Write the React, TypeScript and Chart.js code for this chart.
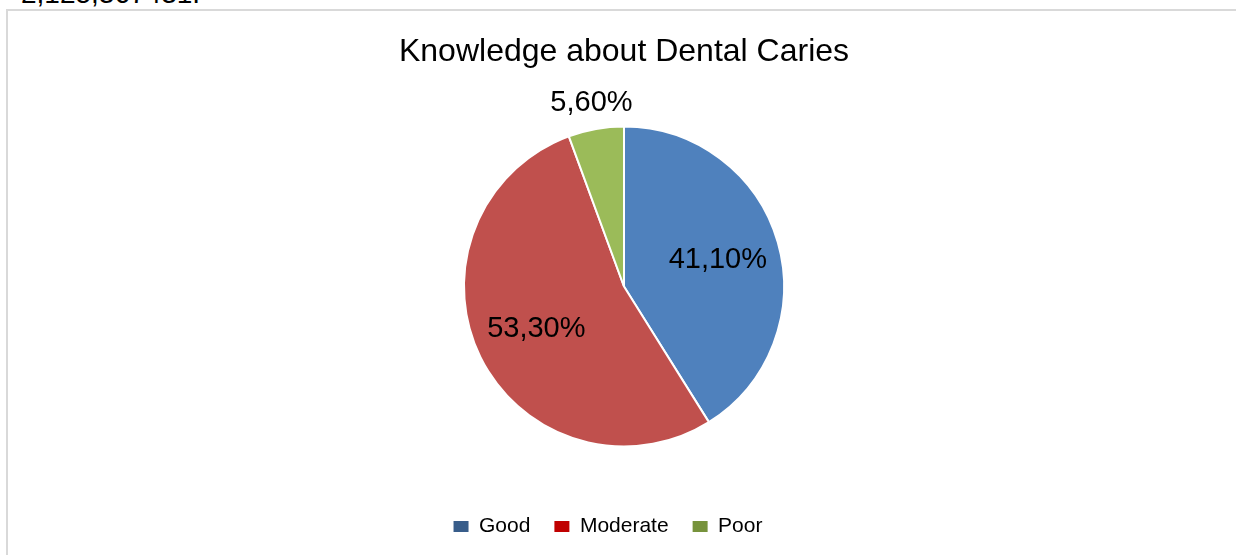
import React, { useEffect, useRef } from "react";
import { Chart, registerables } from "chart.js";

Chart.register(...registerables);

const TITLE = "Knowledge about Dental Caries";
const CATEGORIES = ["Good", "Moderate", "Poor"];
const VALUES = [41.1, 53.3, 5.6];
const VALUE_LABELS = ["41,10%", "53,30%", "5,60%"];
const SLICE_COLORS = ["#4F81BD", "#C0504D", "#9BBB59"];
const LEGEND_COLORS = ["#385D8A", "#C00000", "#77933C"];
const CUT_TEXT = "2,125,367431.";

const FONT = "'Liberation Sans', Arial, sans-serif";

const titlePlugin = {
  id: "customTitle",
  afterDraw(chart: any) {
    const ctx = chart.ctx;
    ctx.save();
    ctx.font = `32px ${FONT}`;
    ctx.fillStyle = "#000";
    ctx.textAlign = "center";
    ctx.textBaseline = "middle";
    ctx.fillText(TITLE, (chart.chartArea.left + chart.chartArea.right) / 2, 41);
    ctx.restore();
  },
};

const legendShift = {
  id: "legendShift",
  afterLayout(chart: any) {
    const lg = chart.legend;
    if (lg) {
      lg.left -= 16;
      lg.right -= 16;
    }
  },
};

const labelPlugin = {
  id: "sliceLabels",
  afterDatasetsDraw(chart: any) {
    const ctx = chart.ctx;
    const meta = chart.getDatasetMeta(0);
    ctx.save();
    ctx.font = `29px ${FONT}`;
    ctx.fillStyle = "#000";
    ctx.textAlign = "center";
    ctx.textBaseline = "middle";
    meta.data.forEach((arc: any, i: number) => {
      const p = arc.getProps(["x", "y", "startAngle", "endAngle", "outerRadius"], true);
      const mid = (p.startAngle + p.endAngle) / 2;
      const frac = (p.endAngle - p.startAngle) / (Math.PI * 2);
      const r = frac < 0.1 ? p.outerRadius + 26 : p.outerRadius * 0.61;
      ctx.fillText(VALUE_LABELS[i], p.x + Math.cos(mid) * r, p.y + Math.sin(mid) * r);
    });
    ctx.restore();
  },
};

export default function App() {
  const ref = useRef<HTMLCanvasElement | null>(null);

  useEffect(() => {
    if (!ref.current) return;
    const chart = new Chart(ref.current, {
      type: "pie",
      data: {
        labels: CATEGORIES,
        datasets: [
          {
            data: VALUES,
            backgroundColor: SLICE_COLORS,
            borderColor: "#ffffff",
            borderWidth: 2,
          },
        ],
      },
      options: {
        responsive: false,
        animation: false,
        radius: 160,
        layout: { padding: { top: 70, bottom: 8, left: 4, right: 0 } },
        plugins: {
          title: { display: false },
          tooltip: { enabled: false },
          legend: {
            display: true,
            position: "bottom",
            labels: {
              boxWidth: 15,
              boxHeight: 11,
              padding: 24,
              color: "#000",
              font: { size: 21, family: FONT },
              generateLabels: () =>
                CATEGORIES.map((c, i) => ({
                  text: c,
                  fillStyle: LEGEND_COLORS[i],
                  strokeStyle: LEGEND_COLORS[i],
                  lineWidth: 0,
                  hidden: false,
                  index: i,
                })),
            },
          },
        },
      } as any,
      plugins: [titlePlugin, labelPlugin, legendShift],
    });
    return () => chart.destroy();
  }, []);

  return (
    <div style={{ position: "fixed", left: 0, top: 0, width: 1236, height: 555, overflow: "hidden", background: "#fff" }}>
      <div
        style={{
          position: "absolute",
          left: 21,
          top: -20,
          fontFamily: FONT,
          fontSize: 28,
          lineHeight: "28px",
          color: "#000",
          whiteSpace: "nowrap",
        }}
      >
        {CUT_TEXT}
      </div>
      <div
        style={{
          position: "absolute",
          left: 6,
          top: 9,
          width: 1240,
          height: 560,
          borderTop: "2px solid #d9d9d9",
          borderLeft: "2px solid #d9d9d9",
          background: "#fff",
        }}
      />
      <canvas
        ref={ref}
        width={1228}
        height={544}
        style={{ position: "absolute", left: 8, top: 11, width: 1228, height: 544 }}
      />
    </div>
  );
}
